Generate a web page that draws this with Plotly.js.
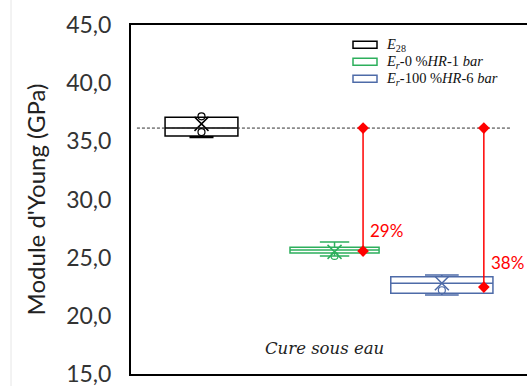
<!DOCTYPE html>
<html>
<head>
<meta charset="utf-8">
<script src="https://cdn.plot.ly/plotly-3.0.1.min.js"></script>
<style>html,body{margin:0;padding:0;background:#fff;}#chart{width:527px;height:386px;}</style>
</head>
<body>
<div id="chart"></div>
<script>
// ---- data ----
const seriesNames = ['E28', 'Er-0 %HR-1 bar', 'Er-100 %HR-6 bar'];
const legendLabels = ['<i>E</i><sub>28</sub>', '<i>E<sub>r</sub></i>-0 %<i>HR</i>-1 <i>bar</i>', '<i>E<sub>r</sub></i>-100 %<i>HR</i>-6 <i>bar</i>'];
const q1Vals = [35.45, 25.40, 21.95];
const medianVals = [36.14, 25.65, 22.80];
const q3Vals = [37.08, 25.90, 23.35];
const lowerVals = [35.32, 25.15, 21.80];
const upperVals = [37.08, 26.35, 23.50];
const meanVals = [36.50, 25.50, 22.80];
const pointVals = [[37.15, 35.80], [25.15], [22.20]];
const refValue = 36.14;            // E28 median reference (dashed line)
const dropEnd = [25.57, 22.47];    // Er values compared with E28
const dropLabels = ['29%', '38%'];
const tickVals = [15, 20, 25, 30, 35, 40, 45];
const categoryLabel = 'Cure sous eau';

// ---- layout constants (positions / styles) ----
const xPos = [0.178, 0.514, 0.785];
const boxW = [0.184, 0.225, 0.258];
const dropX = [0.586, 0.891];
const refX = [0.015, 0.96];
const colors = ['#000000', '#2DAF5C', '#4E6BA8'];

const traces = [];
for (let i = 0; i < 3; i++) {
  traces.push({
    type: 'box', name: seriesNames[i], showlegend: false,
    x: [xPos[i]], q1: [q1Vals[i]], median: [medianVals[i]], q3: [q3Vals[i]],
    lowerfence: [lowerVals[i]], upperfence: [upperVals[i]],
    width: boxW[i], whiskerwidth: 0.33, boxpoints: false,
    fillcolor: 'rgba(255,255,255,0)', line: {color: colors[i], width: 1.5},
    hoverinfo: 'skip'
  });
  traces.push({
    type: 'scatter', mode: 'markers', showlegend: false,
    x: pointVals[i].map(() => xPos[i]), y: pointVals[i],
    marker: {symbol: 'circle-open', size: 7, color: colors[i], line: {width: 1.2, color: colors[i]}},
    hoverinfo: 'skip'
  });
  traces.push({
    type: 'scatter', mode: 'markers', showlegend: false,
    x: [xPos[i]], y: [meanVals[i]],
    marker: {symbol: 'x-thin-open', size: 14, color: colors[i], line: {width: 1.5, color: colors[i]}},
    hoverinfo: 'skip'
  });
}
// dashed reference line
traces.push({
  type: 'scatter', mode: 'lines', showlegend: false,
  x: refX, y: [refValue, refValue],
  line: {color: '#333', width: 1, dash: '3px,2px'}, hoverinfo: 'skip'
});
// red drop lines
for (let k = 0; k < 2; k++) {
  traces.push({
    type: 'scatter', mode: 'lines+markers', showlegend: false,
    x: [dropX[k], dropX[k]], y: [refValue, dropEnd[k]],
    line: {color: '#FF0000', width: 1.5},
    marker: {symbol: 'diamond', size: 9, color: '#FF0000'},
    hoverinfo: 'skip'
  });
}

const annotations = [];
for (let k = 0; k < 2; k++) {
  annotations.push({
    x: dropX[k], y: dropEnd[k], xref: 'x', yref: 'y',
    text: dropLabels[k], showarrow: false,
    xanchor: 'left', yanchor: 'middle', xshift: 5, yshift: 21 + (k ? 4 : 0),
    font: {family: 'Lato, sans-serif', size: 17, color: '#FF0000'}
  });
}
annotations.push({
  x: 0.488, y: 0.072, xref: 'paper', yref: 'paper',
  text: '<i>' + categoryLabel + '</i>', showarrow: false,
  xanchor: 'center', yanchor: 'middle',
  font: {family: 'DejaVu Serif, serif', size: 16.5, color: '#222'}
});

// custom legend
const shapes = [];
const legTop = 0.978, legStep = 17 / 349;
const legX0 = (353 - 131) / 396, legX1 = (377 - 131) / 396, legTX = (384 - 131) / 396;
for (let i = 0; i < 3; i++) {
  const yc = legTop - (i + 0.5) * legStep - 0.01;
  shapes.push({
    type: 'rect', xref: 'paper', yref: 'paper',
    x0: legX0, x1: legX1, y0: yc - 3.5 / 349, y1: yc + 3.5 / 349,
    line: {color: colors[i], width: 1.5}, fillcolor: 'rgba(0,0,0,0)'
  });
  annotations.push({
    x: legTX, y: yc, xref: 'paper', yref: 'paper',
    text: legendLabels[i], showarrow: false, xanchor: 'left', yanchor: 'middle',
    font: {family: 'Liberation Serif, serif', size: 14.5, color: '#111'}
  });
}
// faint page border on the left
shapes.push({
  type: 'line', xref: 'paper', yref: 'paper',
  x0: (11 - 131) / 396, x1: (11 - 131) / 396, y0: -0.05, y1: 1.08,
  line: {color: '#E6E6E6', width: 1}
});

const layout = {
  width: 527, height: 386,
  margin: {l: 131, r: 0, t: 25, b: 12, pad: 0},
  paper_bgcolor: '#fff', plot_bgcolor: '#fff',
  showlegend: false, boxmode: 'overlay',
  separators: ', ',
  xaxis: {
    range: [0, 1], showgrid: false, zeroline: false, showticklabels: false,
    ticks: '', showline: true, linecolor: '#000', linewidth: 2, mirror: true,
    fixedrange: true
  },
  yaxis: {
    range: [15, 45], tickvals: tickVals, tickformat: '.1f',
    showgrid: false, zeroline: false, ticks: '',
    showline: true, linecolor: '#000', linewidth: 2,
    ticklabelstandoff: 13, ticklabeloverflow: 'allow',
    tickfont: {family: 'Lato, sans-serif', size: 23, color: '#333'},
    title: {text: "Module d'Young (GPa)", standoff: 14,
      font: {family: 'Lato, sans-serif', size: 24, color: '#222'}},
    automargin: false
  },
  shapes: shapes,
  annotations: annotations
};

Plotly.newPlot('chart', traces, layout, {displayModeBar: false, staticPlot: true});
</script>
</body>
</html>
